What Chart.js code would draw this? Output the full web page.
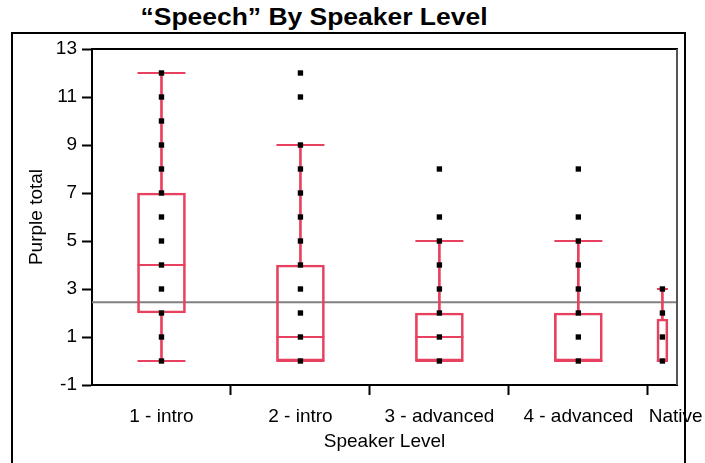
<!DOCTYPE html>
<html>
<head>
<meta charset="utf-8">
<script src="https://cdn.jsdelivr.net/npm/chart.js@4.4.1/dist/chart.umd.min.js"></script>
<style>
  body { margin: 0; width: 705px; height: 463px; overflow: hidden; background: #fff; position: relative; font-family: "Liberation Sans", Arial, sans-serif; }
  #frame { position: absolute; left: 11px; top: 32px; width: 671px; height: 500px; border: 2px solid #000; }
  #title { position: absolute; left: 0; top: 6px; width: 628px; text-align: center; font-weight: bold; font-size: 23px; line-height: 23px; transform: scaleX(1.15); transform-origin: 314px 0; white-space: nowrap; }
  #myChart { position: absolute; left: 0; top: 0; }
</style>
</head>
<body>
<div id="frame"></div>
<div id="title">“Speech” By Speaker Level</div>
<canvas id="myChart" width="705" height="463"></canvas>
<script>
// categories and where they sit on the x axis (JMP widths follow group size)
var categories = ['1 - intro', '2 - intro', '3 - advanced', '4 - advanced', 'Native'];
var catEdges = [0, 1, 2, 3, 4, 4.21];
var labelAt = [0.5, 1.5, 2.5, 3.5, 4.2];

// raw points per group
var points = [
    [0, 1, 2, 3, 4, 5, 6, 7, 8, 9, 10, 11, 12],
    [0, 1, 2, 3, 4, 5, 6, 7, 8, 9, 11, 12],
    [0, 1, 2, 3, 4, 5, 6, 8],
    [0, 1, 2, 3, 4, 5, 6, 8],
    [0, 1, 2, 3]
];

// box plot summary
var q1 = [2, 0, 0, 0, 0];
var median = [4, 1, 1, 0, 0];
var q3 = [7, 4, 2, 2, 1.75];
var whiskerLo = [0, 0, 0, 0, 0];
var whiskerHi = [12, 9, 5, 5, 3];
var grandMean = 2.45;

var yLabels = [-1, 1, 3, 5, 7, 9, 11, 13];

// styles
var red = '#e8415f';
var boxPx = [48, 48, 48, 48, 11];
var fontFam = '"Liberation Sans", Arial, sans-serif';

var centers = [];
for (var i = 0; i < categories.length; i++) {
    centers.push((catEdges[i] + catEdges[i + 1]) / 2);
}

var dotData = [];
for (var i = 0; i < points.length; i++) {
    for (var j = 0; j < points[i].length; j++) {
        dotData.push({x: centers[i], y: points[i][j]});
    }
}

var datasets = [];
datasets.push({
    type: 'scatter',
    data: dotData,
    pointStyle: 'rect',
    pointRadius: 3.8,
    pointBackgroundColor: '#000',
    pointBorderWidth: 0
});

for (var i = 0; i < categories.length; i++) {
    // caps + median line
    datasets.push({
        type: 'scatter',
        data: [
            {x: centers[i], y: whiskerLo[i]},
            {x: centers[i], y: whiskerHi[i]},
            {x: centers[i], y: median[i]}
        ],
        pointStyle: 'line',
        pointRadius: boxPx[i] / 2,
        pointBorderColor: red,
        pointBorderWidth: 2
    });
    // whiskers
    datasets.push({
        type: 'bar',
        data: [
            {x: centers[i], y: [q3[i], whiskerHi[i]]},
            {x: centers[i], y: [whiskerLo[i], q1[i]]}
        ],
        grouped: false,
        barThickness: 2,
        backgroundColor: red,
        borderWidth: 0
    });
    // box
    datasets.push({
        type: 'bar',
        data: [{x: centers[i], y: [q1[i], q3[i]]}],
        grouped: false,
        barThickness: boxPx[i],
        backgroundColor: 'rgba(0,0,0,0)',
        borderColor: red,
        borderWidth: 2,
        borderSkipped: false
    });
}

datasets.push({
    type: 'line',
    data: [{x: catEdges[0], y: grandMean}, {x: catEdges[catEdges.length - 1], y: grandMean}],
    borderColor: '#808080',
    borderWidth: 2,
    pointRadius: 0
});

var xTickVals = catEdges.slice(1, catEdges.length - 1).concat(labelAt).sort(function(a, b){ return a - b; });

var frameLines = {
    id: 'frameLines',
    afterDraw: function(chart){
        var a = chart.chartArea, c = chart.ctx;
        c.save();
        c.lineWidth = 2;
        c.strokeStyle = '#000';
        c.beginPath();
        c.moveTo(a.left, a.top);
        c.lineTo(a.right + 1, a.top);
        c.stroke();
        c.strokeStyle = '#555';
        c.beginPath();
        c.moveTo(a.right, a.top);
        c.lineTo(a.right, a.bottom);
        c.stroke();
        c.restore();
    }
};

var ctx = document.getElementById('myChart');
var chart = new Chart(ctx, {
    type: 'bar',
    data: { datasets: datasets },
    plugins: [frameLines],
    options: {
        responsive: false,
        animation: false,
        devicePixelRatio: 1,
        layout: { padding: { top: 49, right: 28, left: 0, bottom: 0 } },
        plugins: {
            legend: { display: false },
            tooltip: { enabled: false }
        },
        scales: {
            x: {
                type: 'linear',
                offset: false,
                min: catEdges[0],
                max: catEdges[catEdges.length - 1],
                afterBuildTicks: function(s){
                    s.ticks = xTickVals.map(function(v){ return {value: v}; });
                },
                afterFit: function(s){
                    s.height = 78;
                    s.paddingLeft = 0;
                    s.paddingRight = 0;
                },
                ticks: {
                    autoSkip: false,
                    maxRotation: 0,
                    padding: 10,
                    color: '#000',
                    font: { size: 19, family: fontFam },
                    callback: function(v){
                        var k = labelAt.indexOf(v);
                        return k >= 0 ? categories[k] : '';
                    }
                },
                grid: {
                    offset: false,
                    drawOnChartArea: false,
                    tickLength: 10,
                    tickWidth: 2,
                    tickColor: function(c){
                        if (!c.tick) return '#000';
                        return labelAt.indexOf(c.tick.value) >= 0 ? 'rgba(0,0,0,0)' : '#000';
                    }
                },
                border: { color: '#000', width: 2 },
                title: {
                    display: true,
                    text: 'Speaker Level',
                    color: '#000',
                    font: { size: 19, family: fontFam },
                    padding: { top: 0, bottom: 10 }
                }
            },
            y: {
                min: -1,
                max: 13,
                afterBuildTicks: function(s){
                    var t = [];
                    for (var v = -1; v <= 13; v++) t.push({value: v});
                    s.ticks = t;
                },
                afterFit: function(s){ s.width = 92; },
                ticks: {
                    padding: 5,
                    color: '#000',
                    font: { size: 19, family: fontFam },
                    callback: function(v){
                        return yLabels.indexOf(v) >= 0 ? String(v) : '';
                    }
                },
                grid: {
                    drawOnChartArea: false,
                    tickLength: 10,
                    tickWidth: 2,
                    tickColor: '#000'
                },
                border: { color: '#000', width: 2 },
                title: {
                    display: true,
                    text: 'Purple total',
                    color: '#000',
                    font: { size: 19, family: fontFam },
                    padding: { top: 25, bottom: 0 }
                }
            }
        }
    }
});
</script>
</body>
</html>
